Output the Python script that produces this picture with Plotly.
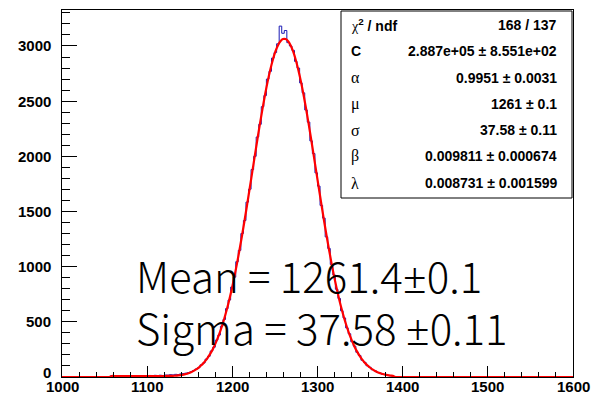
import plotly.graph_objects as go

# ---------------- data ----------------
bin_lo = 1000.0
bin_w = 3.0
n_bins = 200
# counts for bins 19..129 (bin k covers [1000+3k, 1003+3k)); all other bins are empty
first_bin = 19
counts_mid = [
    12, 8, 10, 6, 9, 11, 7, 10, 8, 12, 9, 11, 10, 13, 9, 14, 11, 15, 12, 16, 14, 18, 17,
    21, 19, 24, 22, 28, 31, 35, 40, 47, 58, 72, 84, 110, 127, 162, 188, 236, 270, 334,
    380, 460, 521, 620, 698, 815, 905, 1045, 1148, 1300, 1418, 1585, 1702, 1880, 2000,
    2175, 2290, 2450, 2550, 2700, 2770, 2890, 2940, 3020, 3180, 3115, 3140, 3030, 3000,
    2960, 2860, 2800, 2665, 2575, 2420, 2310, 2140, 2025, 1850, 1730, 1555, 1440, 1270,
    1165, 1020, 925, 795, 712, 600, 535, 445, 392, 320, 280, 224, 195, 152, 133, 102,
    88, 66, 57, 41, 36, 25, 22, 14, 12, 6,
]
# fit curve sampled at the same bin centres (bins 19..129), zero elsewhere
fit_mid = [
    9, 9, 9, 9, 9, 9, 9, 9, 9, 9, 9, 9, 9, 9, 9, 9, 9, 9, 9, 9, 9, 9, 10,
    10, 11, 12, 14, 17.5, 21.2, 27.2, 34.7, 43.9, 55.3, 69.1, 85.8, 106, 130, 158, 191,
    230, 275, 327, 386, 453, 528, 611, 703, 803, 912, 1030, 1155, 1287, 1425, 1569,
    1715, 1863, 2011, 2157, 2299, 2435, 2562, 2679, 2783, 2873, 2948, 3005, 3043, 3063,
    3063, 3043, 3005, 2948, 2873, 2783, 2679, 2562, 2435, 2299, 2157, 2011, 1863, 1715,
    1569, 1425, 1287, 1155, 1030, 912, 803, 703, 611, 528, 453, 386, 327, 275, 230,
    191, 158, 130, 106, 86, 69, 55, 44, 35, 27, 21, 16.5, 12.7, 9.7,
]

GREEK = "<span style='font-family:Liberation Serif;font-weight:normal'>%s</span>"
stat_labels = [
    GREEK % "χ" + "<sup>2</sup> / ndf",
    "C",
    GREEK % "α",
    GREEK % "μ",
    GREEK % "σ",
    GREEK % "β",
    GREEK % "λ",
]
stat_values = [
    "168 / 137",
    "2.887e+05 ± 8.551e+02",
    "0.9951 ± 0.0031",
    "1261 ± 0.1",
    "37.58 ± 0.11",
    "0.009811 ± 0.000674",
    "0.008731 ± 0.001599",
]
PM = "<span style='font-family:Noto Sans'>±</span>"
big_text = ["Mean = 1261.4" + PM + "0.1", "Sigma = 37.58 " + PM + "0.11"]

x_ticks = [1000, 1100, 1200, 1300, 1400, 1500, 1600]
y_ticks = [0, 500, 1000, 1500, 2000, 2500, 3000]

# ---------------- build series ----------------
counts = [0] * n_bins
fit_vals = [0] * n_bins
for i, v in enumerate(counts_mid):
    counts[first_bin + i] = v
for i, v in enumerate(fit_mid):
    fit_vals[first_bin + i] = v
edges = [bin_lo + bin_w * k for k in range(n_bins + 1)]
centres = [bin_lo + bin_w * (k + 0.5) for k in range(n_bins)]

fig = go.Figure()
fig.add_trace(go.Scatter(
    x=edges, y=counts + [counts[-1]], mode="lines", line_shape="hv",
    line=dict(color="#1a1ab4", width=1), hoverinfo="skip", showlegend=False))
fig.add_trace(go.Scatter(
    x=[bin_lo] + centres + [bin_lo + bin_w * n_bins],
    y=[fit_vals[0]] + fit_vals + [fit_vals[-1]],
    mode="lines", line=dict(color="#ff0000", width=2.2), line_shape="spline",
    hoverinfo="skip", showlegend=False))

L, R, T, B = 62, 25, 10, 20
W, H = 598, 397
pw, ph = W - L - R, H - T - B


def px(xp):
    return (xp - L) / pw


def py(yp):
    return (H - B - yp) / ph


tickfont = dict(family="Liberation Sans", size=15, color="black", weight="bold")
fig.update_xaxes(
    range=[1000, 1600], tickvals=x_ticks, ticks="inside", ticklen=11, tickcolor="black",
    showline=True, linecolor="black", linewidth=1, mirror=True, showgrid=False,
    zeroline=False, showticklabels=False, automargin=False,
    minor=dict(ticks="inside", ticklen=5, dtick=20, tickcolor="black", showgrid=False))
fig.update_yaxes(
    range=[0, 3326], tickvals=y_ticks, ticks="inside", ticklen=15, tickcolor="black",
    showline=True, linecolor="black", linewidth=1, mirror=True, showgrid=False,
    zeroline=False, showticklabels=False, automargin=False,
    minor=dict(ticks="inside", ticklen=8, dtick=100, tickcolor="black", showgrid=False))

# axis tick labels (ROOT style: the "0" sits a little above the axis corner)
for xv in x_ticks:
    fig.add_annotation(x=xv, y=py(386), xref="x", yref="paper", text=str(xv),
                       showarrow=False, xanchor="center", yanchor="middle", font=tickfont)
for yv in y_ticks:
    fig.add_annotation(x=px(53), y=yv, xref="paper", yref="y", text=str(yv),
                       showarrow=False, xanchor="right", yanchor="middle", font=tickfont,
                       yshift=5 if yv == 0 else 0)

# stats box
fig.add_shape(type="rect", xref="paper", yref="paper",
              x0=px(341), x1=px(572), y0=py(198), y1=py(11),
              line=dict(color="black", width=1), fillcolor="white", layer="above")
row_y = [25, 51, 78, 104, 130, 156, 183]
sfont = dict(family="Liberation Sans", size=14, color="black", weight="bold")
gfont = dict(family="Liberation Sans", size=16, color="black", weight="bold")
for i, (lab, val, yy) in enumerate(zip(stat_labels, stat_values, row_y)):
    fig.add_annotation(x=px(349), y=py(yy), xref="paper", yref="paper", text=lab,
                       showarrow=False, xanchor="left", yanchor="middle",
                       font=sfont if i < 2 else gfont)
    fig.add_annotation(x=px(559), y=py(yy), xref="paper", yref="paper", text=val,
                       showarrow=False, xanchor="right", yanchor="middle", font=sfont)

bfont = dict(family="Noto Sans CJK SC", size=42, color="black", weight=300)
for txt, yy in zip(big_text, [274, 326]):
    fig.add_annotation(x=px(134), y=py(yy), xref="paper", yref="paper", text=txt,
                       showarrow=False, xanchor="left", yanchor="middle", font=bfont)

fig.update_layout(width=W, height=H, margin=dict(l=L, r=R, t=T, b=B),
                  paper_bgcolor="white", plot_bgcolor="white")
fig.write_html("out.html")
